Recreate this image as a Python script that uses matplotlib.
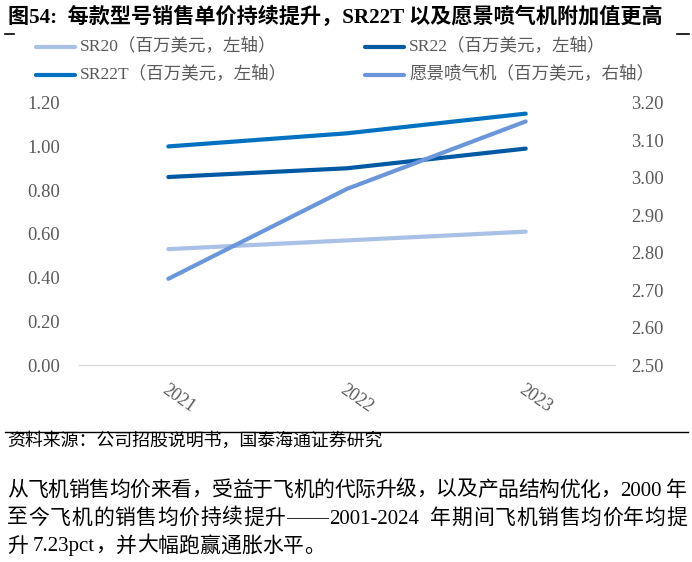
import re
import matplotlib
matplotlib.use("Agg")
import matplotlib.pyplot as plt
from matplotlib.lines import Line2D

plt.rcParams['font.family'] = ['Liberation Serif', 'Noto Sans CJK SC', 'DejaVu Sans']

years = ['2021', '2022', '2023']
sr20 = [0.53, 0.57, 0.61]
sr22 = [0.86, 0.90, 0.99]
sr22t = [1.00, 1.06, 1.15]
vision = [2.73, 2.97, 3.15]

left_ticks = [0.0, 0.2, 0.4, 0.6, 0.8, 1.0, 1.2]
right_ticks = [2.5, 2.6, 2.7, 2.8, 2.9, 3.0, 3.1, 3.2]

names = ['SR20（百万美元，左轴）', 'SR22（百万美元，左轴）',
         'SR22T（百万美元，左轴）', '愿景喷气机（百万美元，右轴）']
colors = ['#A9C1E6', '#0059A3', '#0070C0', '#6B97DA']

title = '图54:  每款型号销售单价持续提升，SR22T 以及愿景喷气机附加值更高'
source = '资料来源：公司招股说明书，国泰海通证券研究'
para = ['从飞机销售均价来看，受益于飞机的代际升级，以及产品结构优化，2000 年',
        '至今飞机的销售均价持续提升——2001-2024  年期间飞机销售均价年均提',
        '升 7.23pct，并大幅跑赢通胀水平。']

W, H = 692, 562
fig = plt.figure(figsize=(W / 100, H / 100), dpi=100)

ax = fig.add_axes([79 / W, 1 - 365 / H, 536 / W, (365 - 102.7) / H])
ax2 = ax.twinx()
x = list(range(len(years)))
lw = 3.0
ax.plot(x, sr20, color=colors[0], lw=lw, solid_capstyle='round', zorder=3)
ax.plot(x, sr22, color=colors[1], lw=lw, solid_capstyle='round', zorder=3)
ax.plot(x, sr22t, color=colors[2], lw=lw, solid_capstyle='round', zorder=3)
ax2.plot(x, vision, color=colors[3], lw=lw, solid_capstyle='round', zorder=3)

ax.set_xlim(-0.5, 2.5)
ax.set_ylim(0, 1.2)
ax2.set_ylim(2.5, 3.2)
ax.set_yticks(left_ticks)
ax.set_yticklabels([f'{v:.2f}' for v in left_ticks])
ax2.set_yticks(right_ticks)
ax2.set_yticklabels([f'{v:.2f}' for v in right_ticks])
ax.set_xticks(x)
ax.set_xticklabels(years, rotation=-35, ha='left', va='top', rotation_mode='anchor')

for a in (ax, ax2):
    for s in a.spines.values():
        s.set_visible(False)
    a.tick_params(length=0, labelsize=13.3, colors='#595959')
ax.spines['bottom'].set_visible(True)
ax.spines['bottom'].set_color('#D9D9D9')
ax.spines['bottom'].set_linewidth(1.0)
ax.tick_params(axis='y', pad=13.7)
ax2.tick_params(axis='y', pad=11.5)
ax.tick_params(axis='x', pad=12, labelsize=13)

# title
fig.text(8 / W, 1 - 17 / H, title, fontsize=15.2, fontweight='bold', va='center', ha='left', color='#000000')
fig.add_artist(Line2D([5 / W, 14 / W], [1 - 34 / H, 1 - 34 / H], color='black', lw=1.2))
fig.add_artist(Line2D([677 / W, 689 / W], [1 - 34 / H, 1 - 34 / H], color='black', lw=1.2))

# legend
leg_pos = [(36, 47), (365, 47), (36, 75), (365, 75)]
for (lx, ly), c, n in zip(leg_pos, colors, names):
    fig.add_artist(Line2D([lx / W, (lx + 39) / W], [1 - ly / H, 1 - ly / H], color=c, lw=lw,
                          solid_capstyle='round'))
    fig.text((lx + 44) / W, 1 - ly / H, n, fontsize=12.6, va='center', ha='left', color='#595959')

# source
fig.add_artist(Line2D([5 / W, 688 / W], [1 - 432 / H, 1 - 432 / H], color='black', lw=1.0))
fig.text(7 / W, 1 - 441 / H, source, fontsize=12.9, va='center', ha='left', color='black')

# paragraph, justified
renderer = fig.canvas.get_renderer()
ys = [491, 519, 547]
x0, x1 = 7, 687
psize = 15
for i, (t, yy) in enumerate(zip(para, ys)):
    tokens = re.findall(r'[A-Za-z0-9.\-]+|\s+|.', t)
    widths = []
    for tok in tokens:
        if tok.isspace():
            widths.append(len(tok) * 0.25 * psize * 100 / 72)
            continue
        tt = fig.text(0, 0, tok, fontsize=psize)
        bb = tt.get_window_extent(renderer)
        widths.append(bb.width)
        tt.remove()
    total = sum(widths)
    n_gaps = len(tokens) - 1
    if i < len(para) - 1 and n_gaps > 0:
        gap = (x1 - x0 - total) / n_gaps
    else:
        gap = 0
    cx = x0
    for tok, w in zip(tokens, widths):
        if not tok.isspace():
            fig.text(cx / W, 1 - yy / H, tok, fontsize=psize, va='center', ha='left', color='black')
        cx += w + gap

fig.savefig('out.png', dpi=100)
